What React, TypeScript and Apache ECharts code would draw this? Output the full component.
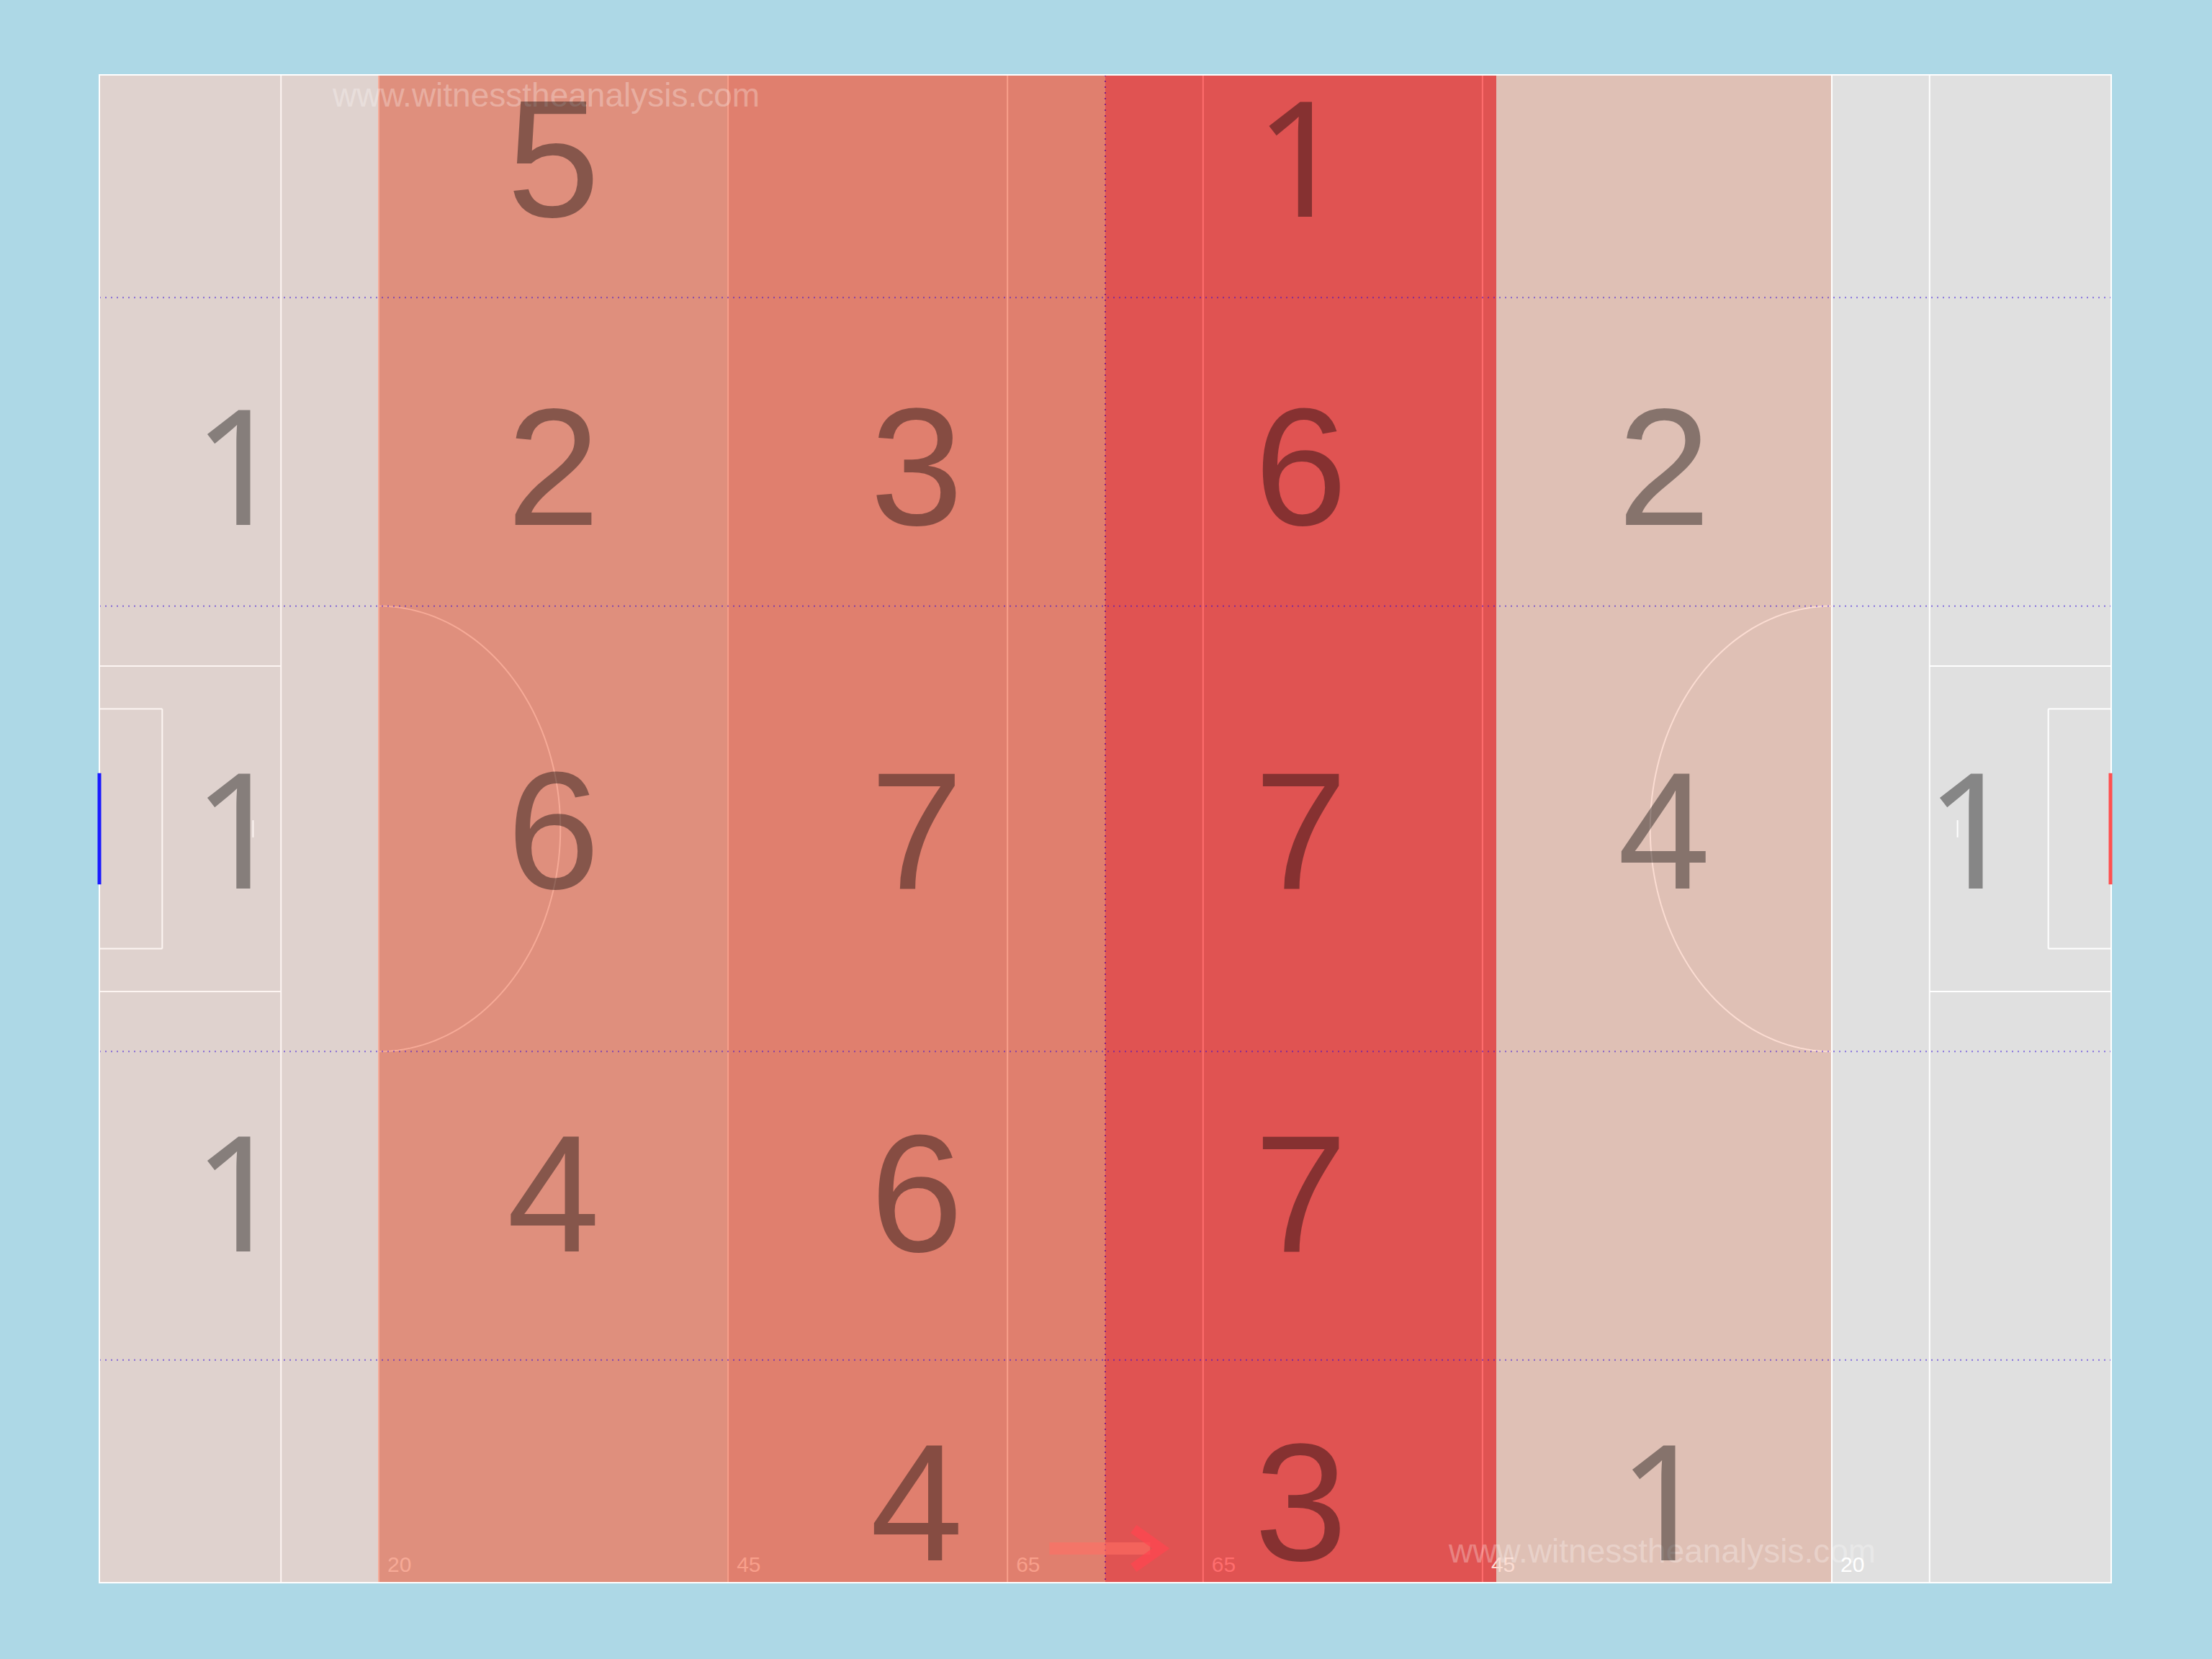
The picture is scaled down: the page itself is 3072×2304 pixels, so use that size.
import React, { useEffect, useRef } from "react";
import * as echarts from "echarts";

// ---- pitch geometry (metres) ----
const PITCH_LENGTH = 144;
const PITCH_WIDTH = 88;
const zoneEdges = [0, 20, 45, 72, 100, 124, 144];
const channelEdges = [13, 31, 57, 75];
const distanceLineX = [13, 20, 45, 65, 79, 99, 124, 131];
const distanceLabelX = [20, 45, 65, 79, 99, 124];
const distanceLabels = ["20", "45", "65", "65", "45", "20"];

// zone fill colours and the tint that pitch markings take inside each zone
const zoneColors = ["#dfd2ce", "#df8f7d", "#e07f6e", "#e05352", "#dfc0b5", "#e0e0e0"];
const zoneLineTints = ["#fdf5f2", "#f6aa97", "#f89f8b", "#ff6e6e", "#fbdcd2", "#ffffff"];

// ---- counts per zone: rows = channels (top to bottom), cols = zones (left to right) ----
const labelRowY = [4.9, 22.9, 44.1, 65.3, 83.3];
const countsRow1 = [null, 5, null, 1, null, null];
const countsRow2 = [1, 2, 3, 6, 2, null];
const countsRow3 = [1, 6, 7, 7, 4, 1];
const countsRow4 = [1, 4, 6, 7, null, null];
const countsRow5 = [null, null, 4, 3, 1, null];
const countRows = [countsRow1, countsRow2, countsRow3, countsRow4, countsRow5];

// attack direction arrow (metres)
const arrowFrom = [68, 86];
const arrowTo = [76.5, 86];

const FONT = "'Liberation Sans', Arial, sans-serif";
const FONT_ONE = "'Noto Sans', 'Liberation Sans', sans-serif";

const zoneAt = (x: number) => {
  let idx = 0;
  for (let i = 0; i < zoneEdges.length - 1; i++) if (x >= zoneEdges[i]) idx = i;
  return idx;
};

export default function App() {
  const ref = useRef<HTMLDivElement>(null);

  useEffect(() => {
    if (!ref.current) return;
    const chart = echarts.init(ref.current, undefined, { renderer: "svg" });

    const zoneData = zoneEdges.slice(0, -1).map((x0, i) => [x0, zoneEdges[i + 1], i]);
    const cellData: number[][] = [];
    countRows.forEach((row, r) => {
      row.forEach((v, c) => {
        if (v != null) {
          cellData.push([(zoneEdges[c] + zoneEdges[c + 1]) / 2, labelRowY[r], v]);
        }
      });
    });

    const renderBase = (params: any, api: any) => {
      const tl = api.coord([0, 0]);
      const br = api.coord([PITCH_LENGTH, PITCH_WIDTH]);
      return {
        type: "rect",
        shape: { x: tl[0], y: tl[1], width: br[0] - tl[0], height: br[1] - tl[1] },
        style: { fill: "#e0e0e0" },
      };
    };

    const renderZone = (params: any, api: any) => {
      const a = api.coord([api.value(0), 0]);
      const b = api.coord([api.value(1), PITCH_WIDTH]);
      return {
        type: "rect",
        shape: { x: a[0], y: a[1], width: b[0] - a[0], height: b[1] - a[1] },
        style: { fill: zoneColors[api.value(2)] },
      };
    };

    const renderLines = (params: any, api: any) => {
      const p = (x: number, y: number) => api.coord([x, y]);
      const ch: any[] = [];
      const seg = (x1: number, y1: number, x2: number, y2: number, style: any) => {
        const a = p(x1, y1);
        const b = p(x2, y2);
        ch.push({ type: "line", shape: { x1: a[0], y1: a[1], x2: b[0], y2: b[1] }, style });
      };
      const ln = (x: number) => ({ stroke: zoneLineTints[zoneAt(x)], lineWidth: 2, fill: null });
      distanceLineX.forEach((x) => seg(x, 0, x, PITCH_WIDTH, ln(x)));
      const mid = PITCH_WIDTH / 2;
      [
        [0, 13],
        [PITCH_LENGTH, PITCH_LENGTH - 13],
      ].forEach(([g, d]) => {
        seg(g, mid - 9.5, d, mid - 9.5, ln(g));
        seg(g, mid + 9.5, d, mid + 9.5, ln(g));
      });
      [
        [0, 4.5],
        [PITCH_LENGTH, PITCH_LENGTH - 4.5],
      ].forEach(([g, d]) => {
        seg(g, mid - 7, d, mid - 7, ln(g));
        seg(g, mid + 7, d, mid + 7, ln(g));
        seg(d, mid - 7, d, mid + 7, ln(g));
      });
      seg(11, mid - 0.5, 11, mid + 0.5, ln(11));
      seg(PITCH_LENGTH - 11, mid - 0.5, PITCH_LENGTH - 11, mid + 0.5, ln(PITCH_LENGTH - 11));
      const arc = (cx: number, sign: number) => {
        const pts: number[][] = [];
        for (let d = -90; d <= 90; d += 2) {
          const t = (d * Math.PI) / 180;
          pts.push(p(cx + sign * 13 * Math.cos(t), mid + 13 * Math.sin(t)));
        }
        ch.push({
          type: "polyline",
          shape: { points: pts },
          style: { stroke: zoneLineTints[zoneAt(cx + sign * 5)], lineWidth: 2, fill: null },
        });
      };
      arc(20, 1);
      arc(PITCH_LENGTH - 20, -1);
      distanceLabelX.forEach((x, i) => {
        const a = p(x, PITCH_WIDTH);
        ch.push({
          type: "text",
          x: a[0] + 12,
          y: a[1] - 26,
          style: {
            text: distanceLabels[i],
            fill: zoneLineTints[zoneAt(x + 1.5)],
            fontSize: 30,
            fontFamily: FONT,
            align: "left",
            verticalAlign: "middle",
          },
        });
      });
      const dot = { stroke: "rgba(40,0,220,0.5)", lineWidth: 2, lineDash: [2, 6], fill: null };
      channelEdges.forEach((y) => seg(0, y, PITCH_LENGTH, y, dot));
      seg(PITCH_LENGTH / 2, 0, PITCH_LENGTH / 2, PITCH_WIDTH, { ...dot, stroke: "rgba(90,0,150,0.7)" });
      return { type: "group", children: ch };
    };

    const renderCount = (params: any, api: any) => {
      const a = api.coord([api.value(0), api.value(1)]);
      const v = api.value(2);
      const isOne = v === 1;
      return {
        type: "text",
        x: a[0],
        y: a[1] + (isOne ? -6 : 0),
        style: {
          text: String(v),
          fill: "rgba(0,0,0,0.4)",
          fontSize: isOne ? 224 : 232,
          fontFamily: isOne ? FONT_ONE : FONT,
          align: "center",
          verticalAlign: "middle",
        },
      };
    };

    const renderOverlay = (params: any, api: any) => {
      const p = (x: number, y: number) => api.coord([x, y]);
      const ch: any[] = [];
      const tl = p(0, 0);
      const br = p(PITCH_LENGTH, PITCH_WIDTH);
      ch.push({
        type: "rect",
        shape: { x: tl[0], y: tl[1], width: br[0] - tl[0], height: br[1] - tl[1] },
        style: { fill: null, stroke: "#ffffff", lineWidth: 2 },
      });
      const mid = PITCH_WIDTH / 2;
      const g1 = p(0, mid - 3.25);
      const g2 = p(0, mid + 3.25);
      ch.push({ type: "line", shape: { x1: g1[0], y1: g1[1], x2: g2[0], y2: g2[1] }, style: { stroke: "#1a1aff", lineWidth: 5 } });
      const r1 = p(PITCH_LENGTH, mid - 3.25);
      const r2 = p(PITCH_LENGTH, mid + 3.25);
      ch.push({ type: "line", shape: { x1: r1[0] - 1, y1: r1[1], x2: r2[0] - 1, y2: r2[1] }, style: { stroke: "#ff5050", lineWidth: 5 } });
      const s = p(arrowFrom[0], arrowFrom[1]);
      const e = p(arrowTo[0], arrowTo[1]);
      ch.push({
        type: "line",
        shape: { x1: s[0], y1: s[1], x2: e[0] - 25, y2: e[1] },
        style: { stroke: "rgba(255,110,100,0.6)", lineWidth: 17 },
      });
      ch.push({
        type: "polyline",
        shape: { points: [[e[0] - 48, e[1] - 27], [e[0] - 10, e[1]], [e[0] - 48, e[1] + 27]] },
        style: { stroke: "rgba(255,70,80,0.75)", lineWidth: 14, fill: null, lineJoin: "miter" },
      });
      return { type: "group", children: ch };
    };

    const watermark = (x: number, y: number) => ({
      type: "text",
      x,
      y,
      z: 4,
      silent: true,
      style: {
        text: "www.witnesstheanalysis.com",
        fill: "rgba(255,255,255,0.3)",
        fontSize: 46,
        fontFamily: FONT,
        align: "left",
        verticalAlign: "middle",
      },
    });

    chart.setOption({
      animation: false,
      backgroundColor: "#add8e6",
      grid: { left: 138, right: 140, top: 104, bottom: 106, show: false },
      xAxis: { type: "value", min: 0, max: PITCH_LENGTH, show: false },
      yAxis: { type: "value", min: 0, max: PITCH_WIDTH, inverse: true, show: false },
      series: [
        { type: "custom", name: "pitch", z: 1, silent: true, data: [[0, 0]], renderItem: renderBase },
        { type: "custom", name: "zones", z: 2, silent: true, data: zoneData, renderItem: renderZone },
        { type: "custom", name: "lines", z: 3, clip: false, silent: true, data: [[0, 0]], renderItem: renderLines },
        { type: "custom", name: "counts", z: 5, silent: true, data: cellData, renderItem: renderCount },
        { type: "custom", name: "marks", z: 6, clip: false, silent: true, data: [[0, 0]], renderItem: renderOverlay },
      ],
      graphic: [watermark(462, 132), watermark(2012, 2154)],
    });

    return () => chart.dispose();
  }, []);

  return (
    <div
      ref={ref}
      style={{ position: "absolute", left: 0, top: 0, width: 3072, height: 2304 }}
    />
  );
}
